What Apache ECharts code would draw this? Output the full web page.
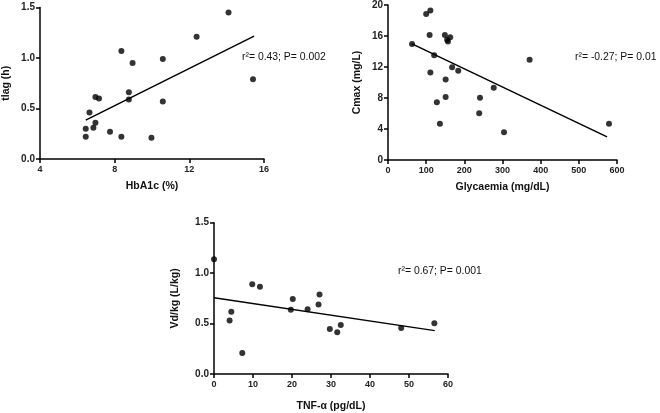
<!DOCTYPE html>
<html><head><meta charset="utf-8">
<script src="https://cdn.jsdelivr.net/npm/echarts@6/dist/echarts.min.js"></script>
<style>html,body{margin:0;padding:0;background:#fff}#c{width:660px;height:413px}</style>
</head><body><div id="c"></div>
<script>
// Panel 1: HbA1c vs tlag
const hba1c = [6.45,6.45,6.65,6.86,6.97,6.97,7.16,7.75,8.36,8.36,8.76,8.76,8.96,9.97,10.58,10.58,12.39,14.1,15.41];
const tlag  = [0.22,0.30,0.46,0.31,0.36,0.615,0.60,0.27,0.22,1.07,0.66,0.59,0.95,0.21,0.99,0.57,1.21,1.45,0.79];
const fit1X = [6.45,15.47], fit1Y = [0.385,1.217];
const ticks1X = [4,16,4], ticks1Y = [0,1.5,0.5];
// Panel 2: Glycaemia vs Cmax
const glyc = [63,100,111,109,111,121,128,136,149,155,157,163,151,151,168,184,239,241,277,304,371,579];
const cmax = [14.98,18.85,19.28,16.13,11.28,13.53,7.45,4.68,16.13,15.53,15.28,15.83,10.38,8.13,11.96,11.53,6.04,8.04,9.32,3.57,12.94,4.68];
const fit2X = [63,574], fit2Y = [14.98,2.98];
const ticks2X = [0,600,100], ticks2Y = [0,20,4];
// Panel 3: TNF-alpha vs Vd/kg
const tnf = [0,4.0,4.44,7.25,9.8,11.78,19.7,20.2,24.0,26.8,27.05,29.7,31.6,32.5,48.0,56.5];
const vdkg = [1.138,0.53,0.618,0.207,0.889,0.866,0.637,0.744,0.643,0.689,0.789,0.446,0.414,0.485,0.456,0.504];
const fit3X = [0,56.6], fit3Y = [0.757,0.43];
const ticks3X = [0,60,10], ticks3Y = [0,1.5,0.5];
const labels = ['r\u00B2= 0.43; P= 0.002','r\u00B2= -0.27; P= 0.01','r\u00B2= 0.67; P= 0.001'];
const names = [['HbA1c (%)','tlag (h)'],['Glycaemia (mg/dL)','Cmax (mg/L)'],['TNF-\u03B1 (pg/dL)','Vd/kg (L/kg)']];

const FONT = 'Liberation Sans, Arial, sans-serif';
const grids = [
  {left:38, top:7.5, width:226, height:151.5},
  {left:388, top:3.3, width:229, height:156.7},
  {left:214, top:222.7, width:234, height:154.6}
];
const xt = [ticks1X,ticks2X,ticks3X], yt=[ticks1Y,ticks2Y,ticks3Y];
const yDec = [1,0,1];
const yGaps = [28,25,33], xGaps=[22,22,27];
function axisBase(isX){
  return {
    axisLine:{onZero:false,lineStyle:{color:'#000',width:1.5}},
    axisTick:{show:true,inside:false,length:4,lineStyle:{color:'#000',width:1.5}},
    splitLine:{show:false},
    axisLabel:{color:'#222',fontFamily:FONT,fontWeight:'bold',fontSize:isX?9:10,margin:isX?6:5},
    nameLocation:'middle',
    nameTextStyle:{color:'#111',fontFamily:FONT,fontWeight:'bold',fontSize:10.5}
  };
}
const xAxis=[], yAxis=[], series=[];
const xs=[hba1c,glyc,tnf], ys=[tlag,cmax,vdkg];
const fx=[fit1X,fit2X,fit3X], fy=[fit1Y,fit2Y,fit3Y];
for(let i=0;i<3;i++){
  const xa = axisBase(true);
  Object.assign(xa,{type:'value',gridIndex:i,min:xt[i][0],max:xt[i][1],interval:xt[i][2],name:names[i][0],nameGap:xGaps[i]});
  xAxis.push(xa);
  const ya = axisBase(false);
  const d=yDec[i];
  Object.assign(ya,{type:'value',gridIndex:i,min:yt[i][0],max:yt[i][1],interval:yt[i][2],name:names[i][1],nameGap:yGaps[i]});
  ya.axisLabel.formatter = v=>v.toFixed(d);
  yAxis.push(ya);
  series.push({type:'scatter',xAxisIndex:i,yAxisIndex:i,symbolSize:6,itemStyle:{color:'#000'},
    data: xs[i].map((v,k)=>[v,ys[i][k]]), silent:true});
  series.push({type:'line',xAxisIndex:i,yAxisIndex:i,symbol:'none',lineStyle:{color:'#000',width:1.5},
    data: fx[i].map((v,k)=>[v,fy[i][k]]), silent:true});
}
const chart = echarts.init(document.getElementById('c'),null,{renderer:'canvas'});
chart.setOption({
  animation:false,
  grid:grids,
  xAxis, yAxis, series,
  graphic:[
    {type:'text',left:242,top:52,style:{text:labels[0],font:'10.4px '+FONT,fill:'#111'}},
    {type:'text',left:575,top:52,style:{text:labels[1],font:'10.4px '+FONT,fill:'#111'}},
    {type:'text',left:398,top:266,style:{text:labels[2],font:'10.4px '+FONT,fill:'#111'}}
  ]
});
</script></body></html>
